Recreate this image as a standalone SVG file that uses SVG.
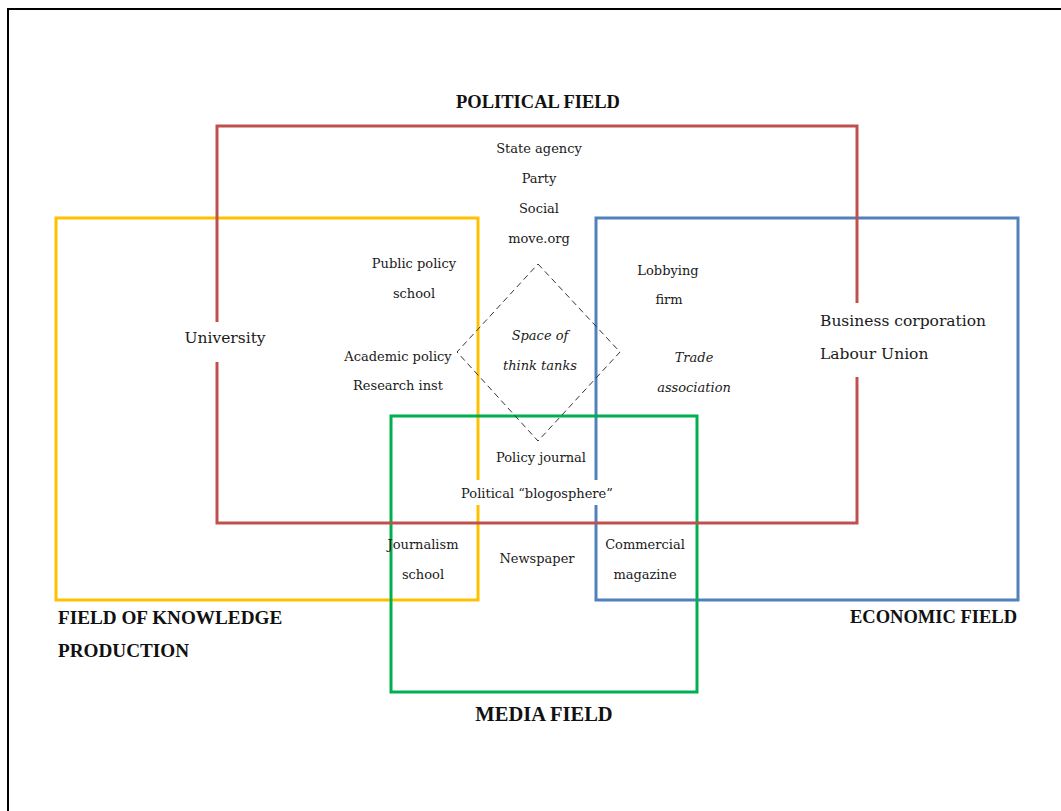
<svg xmlns="http://www.w3.org/2000/svg" width="1061" height="811" viewBox="0 0 1061 811">
<style>
.t{font-family:"DejaVu Serif","Liberation Serif",serif;font-size:13px;fill:#1a1a1a;text-anchor:middle}
.s{text-anchor:start}
.i{font-style:italic}
.m{font-size:15.5px}
.b{font-family:"Liberation Serif","Times New Roman",serif;font-weight:bold;font-size:18.5px;fill:#111}
.f{fill:none;stroke-width:3}
.bg{fill:#fff}
</style>
<rect width="1061" height="811" fill="#fff"/>
<path d="M8,811 V9 H1061" fill="none" stroke="#000" stroke-width="2"/>
<g id="fields">
<rect id="knowledge" class="f" x="56" y="218" width="422" height="382" stroke="#ffc000"/>
<rect id="economic" class="f" x="596" y="218" width="422" height="382" stroke="#4f81bd"/>
<rect id="media" class="f" x="391" y="416" width="306" height="276" stroke="#00b050"/>
<rect id="political" class="f" x="217" y="126" width="640" height="397" stroke="#c0504d"/>
</g>
<g id="connectors">
<polygon points="538,264 620,352 538,441 457,352" fill="none" stroke="#333" stroke-width="1" stroke-dasharray="6,4"/>
</g>
<g id="titles">
<text class="b" x="538" y="108" text-anchor="middle">POLITICAL FIELD</text>
<text class="b" x="58" y="624" style="font-size:19.2px">FIELD OF KNOWLEDGE</text>
<text class="b" x="58" y="657" style="font-size:19.2px">PRODUCTION</text>
<text class="b" x="1017" y="623" text-anchor="end">ECONOMIC FIELD</text>
<text class="b" x="544" y="721" text-anchor="middle" style="font-size:20.5px">MEDIA FIELD</text>
</g>
<g id="political-actors">
<text class="t" x="539" y="153">State agency</text>
<text class="t" x="539" y="183">Party</text>
<text class="t" x="539" y="213">Social</text>
<text class="t" x="539" y="243">move.org</text>
</g>
<g id="public-policy-school">
<text class="t" x="414" y="268">Public policy</text>
<text class="t" x="414" y="298">school</text>
</g>
<g id="academic-policy">
<text class="t" x="398" y="361">Academic policy</text>
<text class="t" x="398" y="390">Research inst</text>
</g>
<g id="think-tanks">
<text class="t i" x="540" y="340">Space of</text>
<text class="t i" x="540" y="370">think tanks</text>
</g>
<g id="lobbying">
<text class="t" x="668" y="275">Lobbying</text>
<text class="t" x="669" y="304">firm</text>
</g>
<g id="trade">
<text class="t i" x="694" y="362">Trade</text>
<text class="t i" x="694" y="392">association</text>
</g>
<g id="business">
<rect class="bg" x="814" y="303" width="178" height="74"/>
<text class="t m s" x="820" y="326">Business corporation</text>
<text class="t m s" x="820" y="359">Labour Union</text>
</g>
<g id="university">
<rect class="bg" x="180" y="322" width="92" height="40"/>
<text class="t m" x="225" y="343">University</text>
</g>
<g id="policy-journal">
<text class="t" x="541" y="462">Policy journal</text>
</g>
<g id="blogosphere">
<rect class="bg" x="462" y="480" width="150" height="25"/>
<text class="t" x="537" y="498">Political “blogosphere”</text>
</g>
<g id="journalism-school">
<text class="t" x="423" y="549">Journalism</text>
<text class="t" x="423" y="579">school</text>
</g>
<g id="newspaper">
<text class="t" x="537" y="563">Newspaper</text>
</g>
<g id="commercial-magazine">
<text class="t" x="645" y="549">Commercial</text>
<text class="t" x="645" y="579">magazine</text>
</g>
</svg>
